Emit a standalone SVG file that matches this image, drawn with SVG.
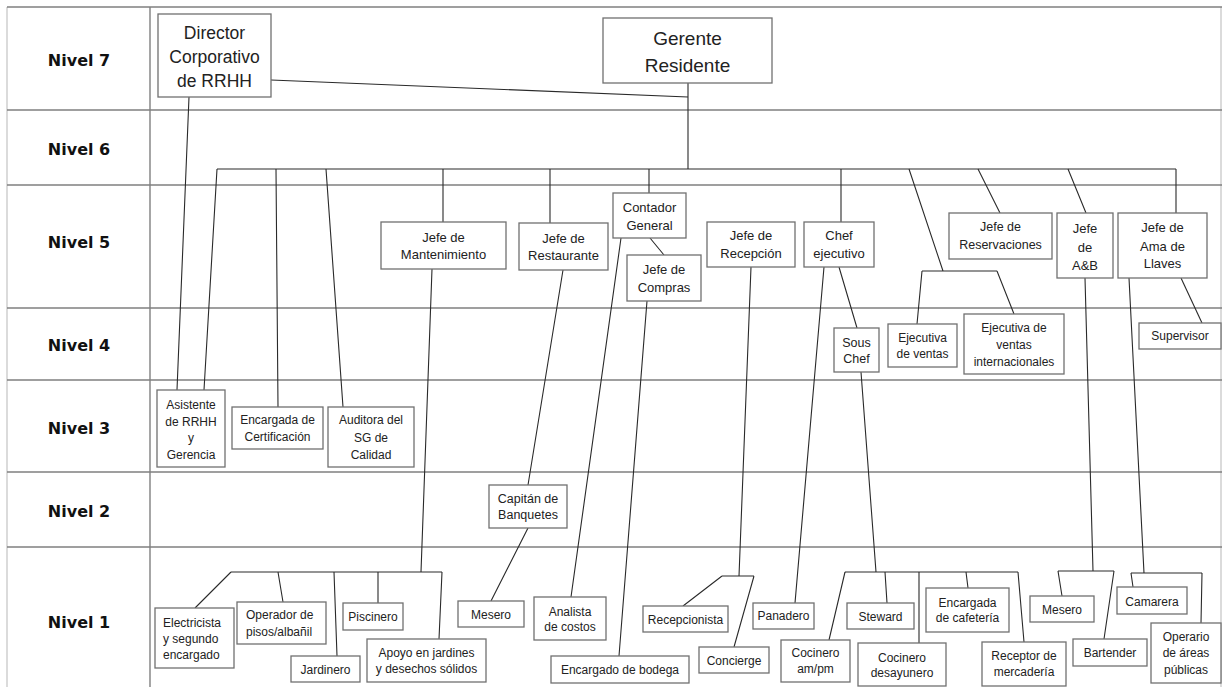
<svg xmlns="http://www.w3.org/2000/svg" width="1223" height="687" viewBox="0 0 1223 687">
<style>
.grid{stroke:#808080;stroke-width:1.4;fill:none}
.edge{stroke:#c4c4c4;stroke-width:1.2;fill:none}
.lvl{font-family:"DejaVu Sans",sans-serif;font-weight:bold;font-size:16px;fill:#111;text-anchor:middle;dominant-baseline:central}
.box{fill:#fff;stroke:#707070;stroke-width:1.3}
text.n{font-family:"Liberation Sans",Arial,sans-serif;fill:#222;text-anchor:middle;dominant-baseline:central}
.f12{font-size:12px}.f125{font-size:12.5px}.f13{font-size:13px}.f175{font-size:17.5px}.f19{font-size:19px}
.l{text-anchor:start !important}
#connectors path{stroke:#2a2a2a;stroke-width:1.1;fill:none}
</style>
<rect x="0" y="0" width="1223" height="687" fill="#fff"/>
<g id="grid">
<path class="edge" d="M7 7V687M1221 7V687"/>
<path class="grid" d="M7 7H1222M7 110H1222M7 185H1222M7 308H1222M7 380H1222M7 472H1222M7 547H1222M150 7V687"/>
<text class="lvl" x="79" y="60">Nivel 7</text>
<text class="lvl" x="79" y="149">Nivel 6</text>
<text class="lvl" x="79" y="242">Nivel 5</text>
<text class="lvl" x="79" y="345">Nivel 4</text>
<text class="lvl" x="79" y="428">Nivel 3</text>
<text class="lvl" x="79" y="511">Nivel 2</text>
<text class="lvl" x="79" y="622">Nivel 1</text>
</g>
<g id="connectors">
<path d="M271 80L688 97M688 83V169M217 169H1176"/>
<path d="M189 97L177 390M217 169L204 390M276 169L278 407M326 169L343 407"/>
<path d="M443 169V222M550 169V223M649 169V193M841 169V222"/>
<path d="M909 169L943 271M922 271H997M922 271L917 324M997 271L1014 314"/>
<path d="M978 169L1000 213M1068 169L1086 213M1176 169V213"/>
<path d="M650 238L664 255M621 238L571 597M647 301L619 656"/>
<path d="M563 270L528 485M528 528L491 601"/>
<path d="M432 269L421 572M231 572H442M231 572L195 608M278 572L283 602M334 572L337 656M378 572V603M442 572L439 639"/>
<path d="M751 267L739 576M722 576H754M722 576L683 606M754 576L734 647"/>
<path d="M824 267L795 603M839 267L857 328"/>
<path d="M861 372L876 572M845 572H1018M845 572L829 640M885 572L887 603M919 572V643M966 572L968 588M1018 572L1024 642"/>
<path d="M1085 278L1093 571M1058 571H1114M1058 571L1062 596M1114 571L1104 639"/>
<path d="M1129 278L1144 573M1131 573H1202M1131 573L1133 587M1202 573L1201 623"/>
<path d="M1181 278L1202 323"/>
</g>
<g id="n-director"><rect class="box" x="158" y="14" width="113" height="83"/><text class="n f175" x="214.5"><tspan x="214.5" y="33">Director</tspan><tspan x="214.5" y="57">Corporativo</tspan><tspan x="214.5" y="81">de RRHH</tspan></text></g>
<g id="n-gerente"><rect class="box" x="603" y="18" width="169" height="65"/><text class="n f19" x="687.5"><tspan x="687.5" y="38">Gerente</tspan><tspan x="687.5" y="65">Residente</tspan></text></g>
<g id="n-mantenimiento"><rect class="box" x="381" y="222" width="125" height="47"/><text class="n f13"><tspan x="443.5" y="237">Jefe de</tspan><tspan x="443.5" y="254">Mantenimiento</tspan></text></g>
<g id="n-restaurante"><rect class="box" x="519" y="223" width="89" height="47"/><text class="n f13"><tspan x="563.5" y="238">Jefe de</tspan><tspan x="563.5" y="255">Restaurante</tspan></text></g>
<g id="n-contador"><rect class="box" x="613" y="193" width="73" height="45"/><text class="n f13"><tspan x="649.5" y="207">Contador</tspan><tspan x="649.5" y="225">General</tspan></text></g>
<g id="n-compras"><rect class="box" x="627" y="255" width="74" height="46"/><text class="n f13"><tspan x="664" y="269">Jefe de</tspan><tspan x="664" y="287">Compras</tspan></text></g>
<g id="n-recepcion"><rect class="box" x="707" y="222" width="88" height="45"/><text class="n f13"><tspan x="751" y="235">Jefe de</tspan><tspan x="751" y="253">Recepción</tspan></text></g>
<g id="n-chef"><rect class="box" x="804" y="222" width="70" height="45"/><text class="n f13"><tspan x="839" y="235">Chef</tspan><tspan x="839" y="253">ejecutivo</tspan></text></g>
<g id="n-reservaciones"><rect class="box" x="949" y="213" width="103" height="46"/><text class="n f125"><tspan x="1000.5" y="227">Jefe de</tspan><tspan x="1000.5" y="245">Reservaciones</tspan></text></g>
<g id="n-ayb"><rect class="box" x="1057" y="213" width="56" height="65"/><text class="n f13"><tspan x="1085" y="228">Jefe</tspan><tspan x="1085" y="247">de</tspan><tspan x="1085" y="265">A&amp;B</tspan></text></g>
<g id="n-ama"><rect class="box" x="1118" y="213" width="89" height="65"/><text class="n f13"><tspan x="1162.5" y="227">Jefe de</tspan><tspan x="1162.5" y="246">Ama de</tspan><tspan x="1162.5" y="263">Llaves</tspan></text></g>
<g id="n-sous"><rect class="box" x="834" y="328" width="45" height="44"/><text class="n f125"><tspan x="856.5" y="343">Sous</tspan><tspan x="856.5" y="359">Chef</tspan></text></g>
<g id="n-ejventas"><rect class="box" x="888" y="324" width="69" height="43"/><text class="n f12"><tspan x="922.5" y="338">Ejecutiva</tspan><tspan x="922.5" y="354">de ventas</tspan></text></g>
<g id="n-ejintl"><rect class="box" x="964" y="314" width="100" height="60"/><text class="n f12"><tspan x="1014" y="328">Ejecutiva de</tspan><tspan x="1014" y="345">ventas</tspan><tspan x="1014" y="362">internacionales</tspan></text></g>
<g id="n-supervisor"><rect class="box" x="1139" y="323" width="82" height="26"/><text class="n f12" x="1180" y="336">Supervisor</text></g>
<g id="n-asistente"><rect class="box" x="157" y="390" width="68" height="77"/><text class="n f12"><tspan x="191" y="405">Asistente</tspan><tspan x="191" y="422">de RRHH</tspan><tspan x="191" y="438">y</tspan><tspan x="191" y="455">Gerencia</tspan></text></g>
<g id="n-certificacion"><rect class="box" x="232" y="407" width="91" height="42"/><text class="n f12"><tspan x="277.5" y="420">Encargada de</tspan><tspan x="277.5" y="437">Certificación</tspan></text></g>
<g id="n-auditora"><rect class="box" x="328" y="407" width="86" height="60"/><text class="n f12"><tspan x="371" y="420">Auditora del</tspan><tspan x="371" y="438">SG de</tspan><tspan x="371" y="455">Calidad</tspan></text></g>
<g id="n-capitan"><rect class="box" x="489" y="485" width="78" height="43"/><text class="n f125"><tspan x="528" y="499">Capitán de</tspan><tspan x="528" y="515">Banquetes</tspan></text></g>
<g id="n-electricista"><rect class="box" x="155" y="608" width="79" height="60"/><text class="n f12 l"><tspan x="163" y="623">Electricista</tspan><tspan x="163" y="639">y segundo</tspan><tspan x="163" y="655">encargado</tspan></text></g>
<g id="n-operador"><rect class="box" x="237" y="602" width="89" height="42"/><text class="n f12 l"><tspan x="246" y="615">Operador de</tspan><tspan x="246" y="632">pisos/albañil</tspan></text></g>
<g id="n-jardinero"><rect class="box" x="291" y="656" width="69" height="26"/><text class="n f12" x="325.5" y="670">Jardinero</text></g>
<g id="n-piscinero"><rect class="box" x="343" y="603" width="60" height="27"/><text class="n f12" x="373" y="617">Piscinero</text></g>
<g id="n-apoyo"><rect class="box" x="367" y="639" width="119" height="43"/><text class="n f12"><tspan x="426.5" y="653">Apoyo en jardines</tspan><tspan x="426.5" y="669">y desechos sólidos</tspan></text></g>
<g id="n-mesero1"><rect class="box" x="458" y="601" width="66" height="26"/><text class="n f12" x="491" y="615">Mesero</text></g>
<g id="n-analista"><rect class="box" x="534" y="597" width="72" height="43"/><text class="n f12"><tspan x="570" y="612">Analista</tspan><tspan x="570" y="627">de costos</tspan></text></g>
<g id="n-bodega"><rect class="box" x="551" y="656" width="138" height="27"/><text class="n f12" x="620" y="670">Encargado de bodega</text></g>
<g id="n-recepcionista"><rect class="box" x="643" y="606" width="85" height="26"/><text class="n f12" x="685.5" y="620">Recepcionista</text></g>
<g id="n-concierge"><rect class="box" x="699" y="647" width="70" height="26"/><text class="n f12" x="734" y="661">Concierge</text></g>
<g id="n-panadero"><rect class="box" x="753" y="603" width="61" height="26"/><text class="n f12" x="783.5" y="616">Panadero</text></g>
<g id="n-cocinero-ampm"><rect class="box" x="781" y="640" width="69" height="42"/><text class="n f12"><tspan x="815.5" y="653">Cocinero</tspan><tspan x="815.5" y="669">am/pm</tspan></text></g>
<g id="n-steward"><rect class="box" x="847" y="603" width="67" height="26"/><text class="n f12" x="880.5" y="617">Steward</text></g>
<g id="n-desayunero"><rect class="box" x="858" y="643" width="88" height="43"/><text class="n f12"><tspan x="902" y="658">Cocinero</tspan><tspan x="902" y="673">desayunero</tspan></text></g>
<g id="n-cafeteria"><rect class="box" x="926" y="588" width="83" height="44"/><text class="n f12"><tspan x="967.5" y="603">Encargada</tspan><tspan x="967.5" y="618">de cafetería</tspan></text></g>
<g id="n-receptor"><rect class="box" x="982" y="642" width="84" height="44"/><text class="n f12"><tspan x="1024" y="656">Receptor de</tspan><tspan x="1024" y="672">mercadería</tspan></text></g>
<g id="n-mesero2"><rect class="box" x="1030" y="596" width="64" height="26"/><text class="n f12" x="1062" y="610">Mesero</text></g>
<g id="n-bartender"><rect class="box" x="1073" y="639" width="74" height="27"/><text class="n f12" x="1110" y="653">Bartender</text></g>
<g id="n-camarera"><rect class="box" x="1117" y="587" width="70" height="27"/><text class="n f12" x="1152" y="602">Camarera</text></g>
<g id="n-operario"><rect class="box" x="1151" y="623" width="70" height="60"/><text class="n f12"><tspan x="1186" y="637">Operario</tspan><tspan x="1186" y="653">de áreas</tspan><tspan x="1186" y="670">públicas</tspan></text></g>
</svg>
